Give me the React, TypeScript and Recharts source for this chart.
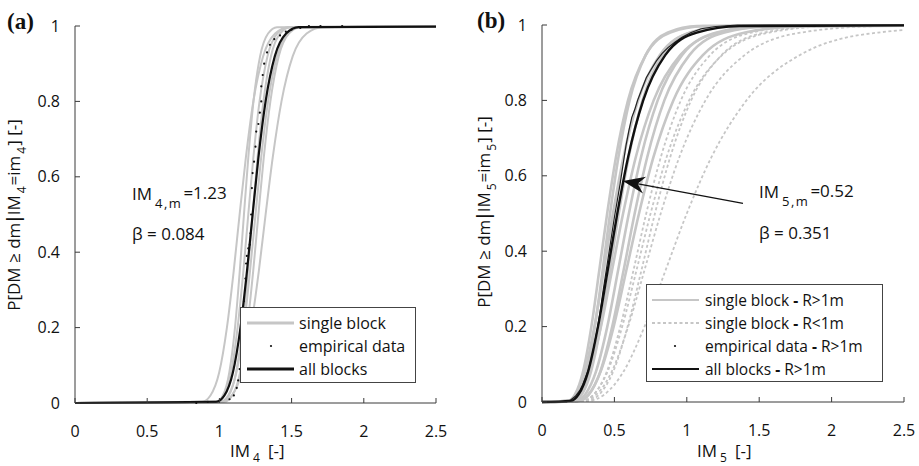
import React from "react";
import { ComposedChart, Line, Scatter, XAxis, YAxis, ReferenceLine } from "recharts";

const levels = [0.003, 0.02, 0.08, 0.2, 0.35, 0.5, 0.65, 0.8, 0.92, 0.98, 0.997];
const xTicks = [0, 0.5, 1, 1.5, 2, 2.5];
const yTicks = [0, 0.2, 0.4, 0.6, 0.8, 1];

// (a) IM4 – x positions of each curve at the levels above
const aSingleBlocks = [
  [0.878, 0.938, 0.998, 1.052, 1.099, 1.14, 1.183, 1.235, 1.303, 1.386, 1.48],
  [0.979, 1.024, 1.068, 1.108, 1.141, 1.17, 1.2, 1.236, 1.282, 1.337, 1.399],
  [0.976, 1.029, 1.08, 1.126, 1.166, 1.2, 1.235, 1.278, 1.333, 1.4, 1.475],
  [1.015, 1.065, 1.115, 1.16, 1.197, 1.23, 1.264, 1.305, 1.357, 1.42, 1.491],
  [1.003, 1.061, 1.117, 1.169, 1.212, 1.25, 1.289, 1.337, 1.399, 1.473, 1.557],
  [1.033, 1.089, 1.143, 1.192, 1.234, 1.27, 1.307, 1.353, 1.411, 1.481, 1.561],
  [1.017, 1.086, 1.155, 1.218, 1.273, 1.32, 1.369, 1.43, 1.508, 1.604, 1.714],
];
const aAllBlocks = [0.977, 1.035, 1.093, 1.146, 1.191, 1.23, 1.27, 1.32, 1.384, 1.462, 1.549];
const aEmpirical = [
  [0.84, 0], [0.92, 0.003], [1.07, 0.01], [1.1, 0.02], [1.12, 0.04], [1.13, 0.06],
  [1.14, 0.09], [1.15, 0.13], [1.16, 0.19], [1.17, 0.27], [1.18, 0.33], [1.185, 0.37],
  [1.19, 0.39], [1.2, 0.41], [1.21, 0.42], [1.215, 0.45], [1.22, 0.5], [1.225, 0.57],
  [1.23, 0.61], [1.24, 0.64], [1.25, 0.68], [1.255, 0.72], [1.27, 0.74], [1.28, 0.77],
  [1.29, 0.8], [1.29, 0.84], [1.3, 0.87], [1.31, 0.9], [1.33, 0.93], [1.35, 0.95],
  [1.38, 0.965], [1.42, 0.975], [1.46, 0.985], [1.5, 0.99], [1.56, 0.995], [1.62, 1],
  [1.7, 1], [1.85, 1],
];

// (b) IM5
const bSingleLarge = [
  [0.182, 0.228, 0.283, 0.341, 0.396, 0.45, 0.511, 0.594, 0.716, 0.886, 1.114],
  [0.206, 0.254, 0.308, 0.365, 0.419, 0.47, 0.528, 0.605, 0.716, 0.87, 1.072],
  [0.182, 0.234, 0.295, 0.362, 0.427, 0.49, 0.563, 0.664, 0.813, 1.026, 1.318],
  [0.22, 0.275, 0.338, 0.405, 0.469, 0.53, 0.599, 0.694, 0.831, 1.023, 1.277],
  [0.197, 0.257, 0.328, 0.407, 0.484, 0.56, 0.648, 0.771, 0.955, 1.222, 1.591],
  [0.236, 0.298, 0.372, 0.451, 0.526, 0.6, 0.684, 0.799, 0.967, 1.206, 1.527],
  [0.258, 0.325, 0.402, 0.485, 0.564, 0.64, 0.727, 0.845, 1.018, 1.26, 1.585],
  [0.249, 0.32, 0.404, 0.495, 0.583, 0.67, 0.77, 0.907, 1.111, 1.403, 1.802],
];
const bSingleSmall = [
  [0.283, 0.358, 0.447, 0.541, 0.632, 0.72, 0.821, 0.959, 1.161, 1.447, 1.833],
  [0.279, 0.358, 0.452, 0.554, 0.653, 0.75, 0.861, 1.016, 1.244, 1.571, 2.017],
  [0.315, 0.396, 0.491, 0.591, 0.687, 0.78, 0.886, 1.03, 1.24, 1.536, 1.932],
  [0.289, 0.376, 0.481, 0.595, 0.708, 0.82, 0.949, 1.129, 1.399, 1.79, 2.33],
  [0.324, 0.431, 0.562, 0.708, 0.854, 1.0, 1.171, 1.412, 1.779, 2.321, 3.085],
];
const bAllBlocks = [0.198, 0.253, 0.318, 0.387, 0.454, 0.52, 0.595, 0.699, 0.851, 1.069, 1.364];
const bEmpirical = [
  [0, 0], [0.17, 0], [0.2, 0.006], [0.23, 0.015], [0.26, 0.03], [0.28, 0.045], [0.3, 0.065],
  [0.32, 0.085], [0.34, 0.115], [0.36, 0.15], [0.38, 0.19], [0.4, 0.235], [0.42, 0.29],
  [0.44, 0.34], [0.46, 0.39], [0.48, 0.44], [0.5, 0.49], [0.52, 0.535], [0.54, 0.58],
  [0.56, 0.63], [0.58, 0.68], [0.6, 0.72], [0.62, 0.755], [0.64, 0.775], [0.66, 0.8],
  [0.69, 0.83], [0.72, 0.86], [0.75, 0.88], [0.79, 0.905], [0.83, 0.925], [0.87, 0.94],
  [0.92, 0.955], [0.97, 0.968], [1.03, 0.98], [1.1, 0.99], [1.2, 0.996], [1.35, 1], [2.5, 1],
];

const FONT = '"Open Sans", sans-serif';
const GRAY = "#c6c6c6";
const AXIS = "#3a3a3a";
const INK = "#111";

const toCurve = (xs: number[]) => [
  { x: 0, y: 0 },
  ...xs.map((x, i) => ({ x, y: levels[i] })),
  { x: 3.5, y: 1 },
];
const toPoints = (pts: number[][]) => pts.map(([x, y]) => ({ x, y }));

const Dot = (p: any) => <circle cx={p.cx} cy={p.cy} r={1.1} fill={INK} />;

const Arrow = (p: any) => {
  let { x1, y1, x2, y2 } = p;
  if (x1 < x2) [x1, y1, x2, y2] = [x2, y2, x1, y1]; // tip is the left end
  const a = Math.atan2(y2 - y1, x2 - x1);
  const c = Math.cos(a), s = Math.sin(a);
  const back = (d: number, w: number) => `${x2 - d * c - w * s},${y2 - d * s + w * c}`;
  return (
    <g>
      <line x1={x1} y1={y1} x2={x2 - 10 * c} y2={y2 - 10 * s} stroke={INK} strokeWidth={1.2} />
      <polygon points={`${x2},${y2} ${back(22, 8.5)} ${back(15, 0)} ${back(22, -8.5)}`} fill={INK} />
    </g>
  );
};

function axes() {
  const tick = { fontFamily: FONT, fontSize: 16, fill: INK };
  return [
    <XAxis
      key="x"
      type="number"
      dataKey="x"
      domain={[0, 2.5]}
      ticks={xTicks}
      interval={0}
      allowDataOverflow
      height={30}
      tick={tick}
      tickSize={-5}
      tickMargin={28}
      axisLine={{ stroke: AXIS }}
      tickLine={{ stroke: AXIS }}
    />,
    <YAxis
      key="y"
      type="number"
      dataKey="y"
      domain={[0, 1]}
      ticks={yTicks}
      interval={0}
      width={40}
      tick={tick}
      tickSize={-5}
      tickMargin={20}
      axisLine={{ stroke: AXIS }}
      tickLine={{ stroke: AXIS }}
    />,
  ];
}

function PanelA() {
  return (
    <ComposedChart width={460} height={466} margin={{ top: 26, right: 24, bottom: 33, left: 35 }}>
      {axes()}
      {aSingleBlocks.map((c, i) => (
        <Line key={i} data={toCurve(c)} dataKey="y" type="monotone" stroke={GRAY} strokeWidth={2}
          dot={false} activeDot={false} isAnimationActive={false} />
      ))}
      <Line data={toCurve(aAllBlocks)} dataKey="y" type="monotone" stroke={INK} strokeWidth={2.2}
        dot={false} activeDot={false} isAnimationActive={false} />
      <Scatter data={toPoints(aEmpirical)} dataKey="y" shape={Dot} isAnimationActive={false} />
    </ComposedChart>
  );
}

function PanelB() {
  return (
    <ComposedChart width={459} height={466} margin={{ top: 25, right: 15, bottom: 34, left: 42 }}>
      {axes()}
      {bSingleSmall.map((c, i) => (
        <Line key={"s" + i} data={toCurve(c)} dataKey="y" type="monotone" stroke={GRAY} strokeWidth={1.8}
          strokeDasharray="3 2.5" dot={false} activeDot={false} isAnimationActive={false} />
      ))}
      {bSingleLarge.map((c, i) => (
        <Line key={"l" + i} data={toCurve(c)} dataKey="y" type="monotone" stroke={GRAY} strokeWidth={2.6}
          dot={false} activeDot={false} isAnimationActive={false} />
      ))}
      <Line data={toPoints(bEmpirical)} dataKey="y" type="linear" stroke="#222" strokeWidth={1.2}
        dot={false} activeDot={false} isAnimationActive={false} />
      <Line data={toCurve(bAllBlocks)} dataKey="y" type="monotone" stroke={INK} strokeWidth={2.4}
        dot={false} activeDot={false} isAnimationActive={false} />
      <ReferenceLine
        segment={[{ x: 1.388, y: 0.527 }, { x: 0.559, y: 0.586 }]}
        shape={Arrow}
        ifOverflow="visible"
      />
    </ComposedChart>
  );
}

const T = { fontFamily: FONT, fontSize: 17, fill: INK } as const;

function YTitle({ x, y, n }: { x: number; y: number; n: string }) {
  return (
    <text {...T} textAnchor="middle" transform={`translate(${x},${y}) rotate(-90)`}>
      P[DM ≥ dm<tspan dx={-1} fontWeight="bold">|</tspan><tspan dx={-1}>IM</tspan>
      <tspan dx={2} dy={6} fontSize={12}>{n}</tspan>
      <tspan dx={1} dy={-6}>=im</tspan><tspan dx={2} dy={6} fontSize={12}>{n}</tspan>
      <tspan dx={1} dy={-6}>] [-]</tspan>
    </text>
  );
}

function Overlay() {
  return (
    <svg width={919} height={466} style={{ position: "absolute", left: 0, top: 0, pointerEvents: "none" }}>
      {/* panel letters */}
      <text x={7} y={29} fontFamily='"Liberation Serif", serif' fontWeight="bold" fontSize={23} fill={INK}>(a)</text>
      <text x={477} y={28} fontFamily='"Liberation Serif", serif' fontWeight="bold" fontSize={23} fill={INK}>(b)</text>

      {/* y axis titles */}
      <YTitle x={20} y={215} n="4" />
      <YTitle x={490} y={212} n="5" />

      {/* x axis titles */}
      <text {...T} x={230} y={457}>
        IM<tspan dx={3} dy={5} fontSize={12}>4</tspan><tspan dx={8} dy={-5}>[-]</tspan>
      </text>
      <text {...T} x={697} y={457}>
        IM<tspan dx={3} dy={5} fontSize={12}>5</tspan><tspan dx={8} dy={-5}>[-]</tspan>
      </text>

      {/* annotations */}
      <text {...T} x={132} y={200}>
        IM<tspan dx={3} dy={8} fontSize={13} letterSpacing={1.5}>4,m</tspan><tspan dx={1} dy={-9}>=1.23</tspan>
      </text>
      <text {...T} x={132} y={240}>β = 0.084</text>
      <text {...T} x={759} y={198}>
        IM<tspan dx={3} dy={8} fontSize={13} letterSpacing={1.5}>5,m</tspan><tspan dx={1} dy={-9}>=0.52</tspan>
      </text>
      <text {...T} x={759} y={239}>β = 0.351</text>

      {/* legend (a) */}
      <rect x={240.5} y={307.5} width={175} height={75} fill="#fff" stroke="#444" />
      <line x1={247} x2={294} y1={323} y2={323} stroke={GRAY} strokeWidth={3} />
      <circle cx={271} cy={346} r={1.1} fill={INK} />
      <line x1={247} x2={294} y1={369} y2={369} stroke={INK} strokeWidth={3} />
      <text {...T} fontSize={16} x={299} y={329}>single block</text>
      <text {...T} fontSize={16} x={299} y={352}>empirical data</text>
      <text {...T} fontSize={16} x={299} y={375}>all blocks</text>

      {/* legend (b) */}
      <rect x={646.5} y={284.5} width={236} height={97} fill="#fff" stroke="#444" />
      <line x1={652} x2={699} y1={300} y2={300} stroke={GRAY} strokeWidth={2} />
      <line x1={652} x2={699} y1={323} y2={323} stroke={GRAY} strokeWidth={1.8} strokeDasharray="3 2.5" />
      <circle cx={675} cy={346} r={1.1} fill={INK} />
      <line x1={652} x2={699} y1={369} y2={369} stroke={INK} strokeWidth={2.2} />
      <text {...T} fontSize={15.5} x={705} y={306}>single block <tspan fontWeight="bold">-</tspan> R&gt;1m</text>
      <text {...T} fontSize={15.5} x={705} y={329}>single block <tspan fontWeight="bold">-</tspan> R&lt;1m</text>
      <text {...T} fontSize={15.5} x={705} y={352}>empirical data <tspan fontWeight="bold">-</tspan> R&gt;1m</text>
      <text {...T} fontSize={15.5} x={705} y={375}>all blocks <tspan fontWeight="bold">-</tspan> R&gt;1m</text>
    </svg>
  );
}

export default function App() {
  return (
    <div style={{ position: "absolute", left: 0, top: 0, width: 919, height: 466, background: "#fff" }}>
      <div style={{ position: "absolute", left: 0, top: 0 }}>
        <PanelA />
      </div>
      <div style={{ position: "absolute", left: 460, top: 0 }}>
        <PanelB />
      </div>
      <Overlay />
    </div>
  );
}
